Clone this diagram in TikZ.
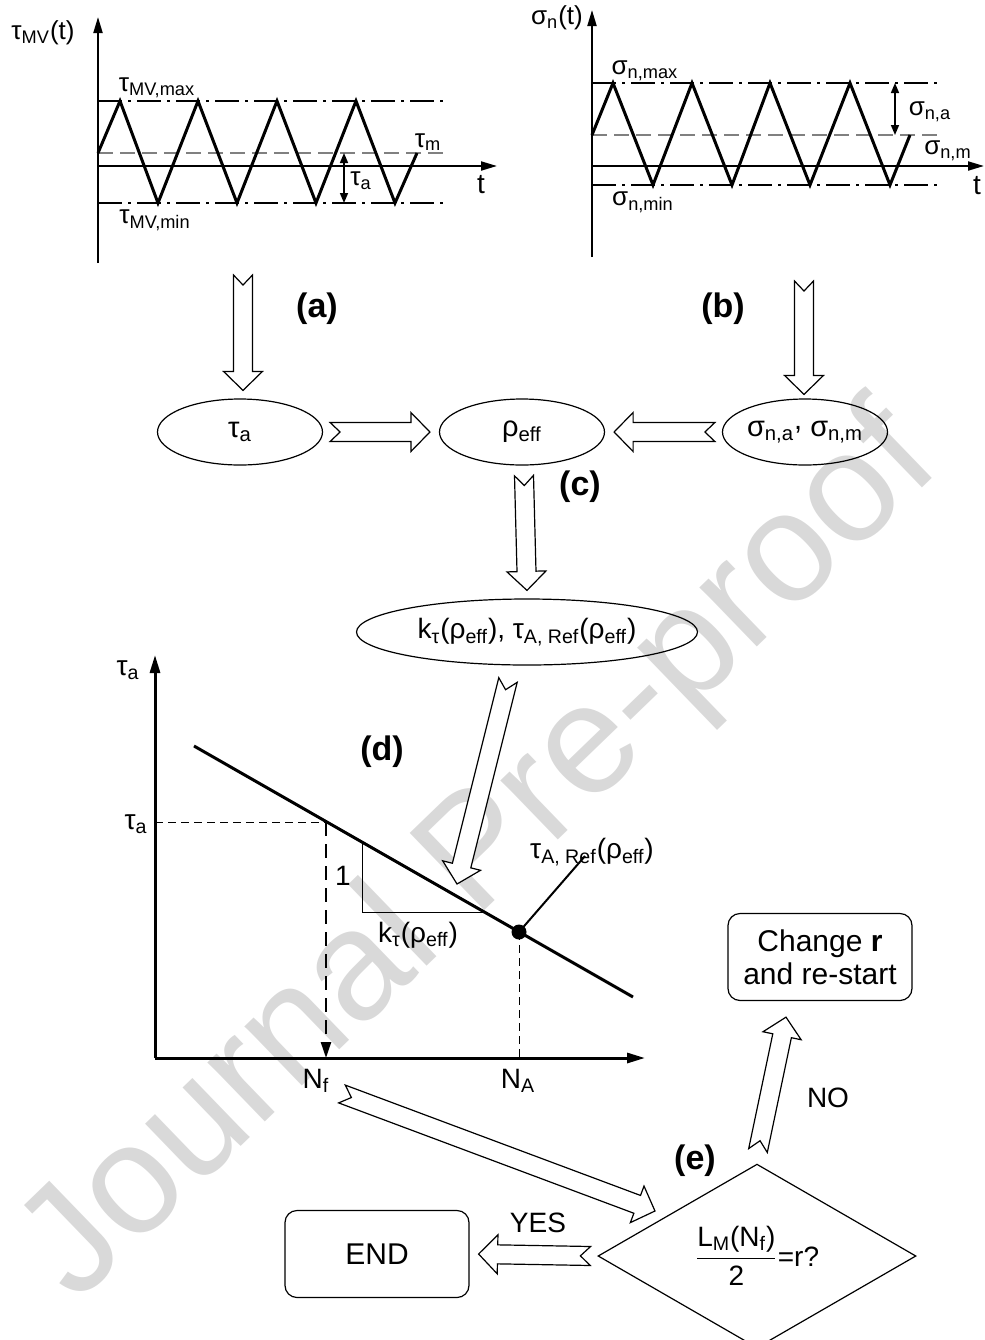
\documentclass[tikz,border=0pt]{standalone}
\usepackage{fontspec}
\setmainfont{Liberation Sans}
\usetikzlibrary{calc,arrows.meta,positioning,shapes.geometric}

\tikzset{
  wave/.style={line width=1.5pt,line join=miter},
  axis/.style={line width=1pt,-{Triangle[length=8pt,width=4.5pt]}},
  snaxis/.style={line width=1.5pt,-{Triangle[length=9pt,width=5pt]}},
  limit/.style={line width=1pt,dash pattern=on 12pt off 3pt on 1.5pt off 3pt},
  mean/.style={line width=1pt,gray,dash pattern=on 7.5pt off 3.5pt},
  ampl/.style={line width=0.8pt,{Triangle[length=5pt,width=4pt]}-{Triangle[length=5pt,width=4pt]}},
  thin dash/.style={line width=0.5pt,dash pattern=on 4pt off 2.5pt},
  blockarrow/.style={draw,fill=white,line width=0.6pt,line join=miter},
  bubble/.style={ellipse,draw,line width=0.6pt,minimum width=82.5pt,minimum height=33pt,inner sep=0pt,font=\fontsize{14.5}{16}\selectfont},
  rbox/.style={rectangle,draw,rounded corners=6pt,line width=0.6pt,minimum width=92pt,minimum height=43.5pt,align=center,font=\fontsize{15}{16.5}\selectfont},
  decision/.style={diamond,draw,line width=0.6pt,minimum width=159pt,minimum height=86pt,inner sep=0pt,font=\fontsize{14}{16}\selectfont},
  panel/.style={font=\fontsize{17}{20}\selectfont\bfseries,inner sep=0pt},
  lbl/.style={font=\fontsize{13}{15}\selectfont,inner sep=0pt},
  snlbl/.style={font=\fontsize{14}{16}\selectfont,inner sep=0pt},
  watermark/.style={rotate=44,text=black!15,font=\fontsize{78}{80}\selectfont,inner sep=0pt}
}

\newcommand\blockarrow[2]{%
  \path let \p1=($(#2)-(#1)$) in
    \pgfextra{\pgfmathsetmacro\arrlen{veclen(\x1,\y1)}%
      \pgfmathsetmacro\arrang{atan2(\y1,\x1)}%
      \xdef\arrlen{\arrlen}\xdef\arrang{\arrang}};
  \draw[blockarrow,shift={(#1)},rotate=\arrang]
    (0pt,4.75pt) -- ({\arrlen pt-9.5pt},4.75pt) -- ({\arrlen pt-9.5pt},9.75pt)
    -- (\arrlen pt,0pt) -- ({\arrlen pt-9.5pt},-9.75pt) -- ({\arrlen pt-9.5pt},-4.75pt)
    -- (0pt,-4.75pt) -- (5pt,0pt) -- cycle;}

\begin{document}
\begin{tikzpicture}[x=0.5pt,y=-0.5pt]
\useasboundingbox (0,0) rectangle (985,1340);
\node[watermark] (wm) at (482,857) {Journal Pre-proof};

\draw[limit] (98,101) -- (443,101) (98,203) -- (443,203);
\draw[mean] (98,153) -- (443,153);
\draw[axis] (98,263) -- (98,17);
\draw[axis] (98,166) -- (497,166);
\draw[wave] (98,153) -- (120,101) -- (158,203) -- (198,101) -- (237,203) -- (277,101) -- (316,203) -- (356,101) -- (395,203) -- (417,153);
\draw[ampl] (344,153) -- (344,203);
\node[lbl] (tauMV) at (43,33) {τ\textsubscript{MV}(t)};
\node[lbl] (tauMax) at (157,88) {τ\textsubscript{MV,max}};
\node[lbl] (tauMin) at (155,220) {τ\textsubscript{MV,min}};
\node[lbl] (tauM) at (428,142) {τ\textsubscript{m}};
\node[lbl] (tauAmp) at (361,181) {τ\textsubscript{a}};
\node[lbl,font=\fontsize{14}{16}\selectfont] (tOne) at (481,185) {t};

\draw[limit] (592,83) -- (937,83) (592,185) -- (937,185);
\draw[mean] (592,135) -- (937,135);
\draw[axis] (592,257) -- (592,10);
\draw[axis] (592,166) -- (984,166);
\draw[wave] (592,135) -- (613,83) -- (653,185) -- (692,83) -- (732,185) -- (770,83) -- (810,185) -- (850,83) -- (890,185) -- (910,135);
\draw[ampl] (895,83) -- (895,135);
\node[lbl] (sigN) at (557,18) {σ\textsubscript{n}(t)};
\node[lbl] (sigMax) at (645,71) {σ\textsubscript{n,max}};
\node[lbl] (sigMin) at (643,202) {σ\textsubscript{n,min}};
\node[lbl] (sigAmp) at (930,112) {σ\textsubscript{n,a}};
\node[lbl] (sigM) at (948,151) {σ\textsubscript{n,m}};
\node[lbl,font=\fontsize{14}{16}\selectfont] (tTwo) at (977,186) {t};

\node[bubble] (tauA) at (240,432) {τ\textsubscript{a}};
\node[bubble] (rho) at (522,432) {ρ\textsubscript{eff}};
\node[bubble] (sig) at (805,432) {σ\textsubscript{n,a}\raisebox{.45ex}{,} σ\textsubscript{n,m}};
\node[bubble,minimum width=170.5pt,font=\fontsize{14}{16}\selectfont] (kref) at (527,632) {k\textsubscript{τ}(ρ\textsubscript{eff}), τ\textsubscript{A, Ref}(ρ\textsubscript{eff})};

\node[panel] (pa) at (317,309) {(a)};
\node[panel] (pb) at (723,309) {(b)};
\node[panel] (pc) at (580,487) {(c)};
\node[panel] (pd) at (382,752) {(d)};
\node[panel] (pe) at (695,1161) {(e)};

\coordinate (tauplot) at (243,275);
\coordinate (sigplot) at (804,281);
\coordinate (tauA-in) at ([xshift=1.5pt,yshift=4pt]tauA.north);
\coordinate (tauA-out) at ([xshift=3.5pt]tauA.east);
\coordinate (rho-w) at ([xshift=-4.5pt]rho.west);
\coordinate (rho-e) at ([xshift=4.5pt]rho.east);
\coordinate (sig-out) at ([xshift=-3.5pt]sig.west);
\coordinate (sig-in) at ([xshift=-0.5pt,yshift=2pt]sig.north);
\coordinate (rho-out) at ([xshift=1pt,yshift=-5pt]rho.south);
\coordinate (kref-in) at ([yshift=4pt]kref.north);
\coordinate (kref-out) at (508,680);
\coordinate (sn-hit) at (457,884);

\blockarrow{tauplot}{tauA-in}
\blockarrow{sigplot}{sig-in}
\blockarrow{tauA-out}{rho-w}
\blockarrow{sig-out}{rho-e}
\blockarrow{rho-out}{kref-in}

\coordinate (origin) at (155,1058);
\coordinate (snA) at (194,746);
\coordinate (snB) at (633,997);
\coordinate (nfTop) at (326,822);
\coordinate (naDot) at (519,932);
\draw[thin dash] (origin |- nfTop) -- (nfTop);
\draw[thin dash] (naDot) -- (naDot |- origin);
\draw[line width=0.5pt] (362,842) -- (362,912) -- (484,912);
\draw[snaxis] (origin) -- (155,655);
\draw[snaxis] (origin) -- (645,1058);
\draw[line width=1.5pt] (snA) -- (snB);
\draw[line width=1.2pt,dash pattern=on 7pt off 4pt,-{Triangle[length=8pt,width=5pt]}] (nfTop) -- (nfTop |- origin);
\fill (naDot) circle (3.75pt);
\draw[line width=1pt] (naDot) -- (585,856);
\node[snlbl] (snAxis) at (128,670) {τ\textsubscript{a}};
\node[snlbl] (snTau) at (136,824) {τ\textsubscript{a}};
\node[snlbl] (snNf) at (316,1081) {N\textsubscript{f}};
\node[snlbl] (snNA) at (518,1081) {N\textsubscript{A}};
\node[snlbl] (snOne) at (343,876) {1};
\node[snlbl] (snK) at (418,935) {k\textsubscript{τ}(ρ\textsubscript{eff})};
\node[snlbl] (snRef) at (592,852) {τ\textsubscript{A, Ref}(ρ\textsubscript{eff})};
\blockarrow{kref-out}{sn-hit}

\node[decision] (check) at (757,1256) {$\displaystyle\frac{\mbox{L\textsubscript{M}(N\textsubscript{f})}}{\mbox{2}}$=r?};
\node[rbox] (endbox) at (377,1254) {END};
\node[rbox] (change) at (820,957) {Change \textbf{r}\\and re-start};
\coordinate (nf-out) at (342,1094);
\coordinate (check-in) at (655,1211);
\coordinate (check-w) at ([xshift=-3.5pt]check.west);
\coordinate (end-in) at ([xshift=4.5pt]endbox.east);
\coordinate (check-n) at ([xshift=0.5pt,yshift=6.5pt]check.north);
\coordinate (change-in) at ([xshift=-17pt,yshift=-8pt]change.south);
\blockarrow{nf-out}{check-in}
\blockarrow{check-w}{end-in}
\blockarrow{check-n}{change-in}
\node[snlbl] (yes) at (538,1223) {YES};
\node[snlbl] (no) at (828,1098) {NO};
\end{tikzpicture}
\end{document}
